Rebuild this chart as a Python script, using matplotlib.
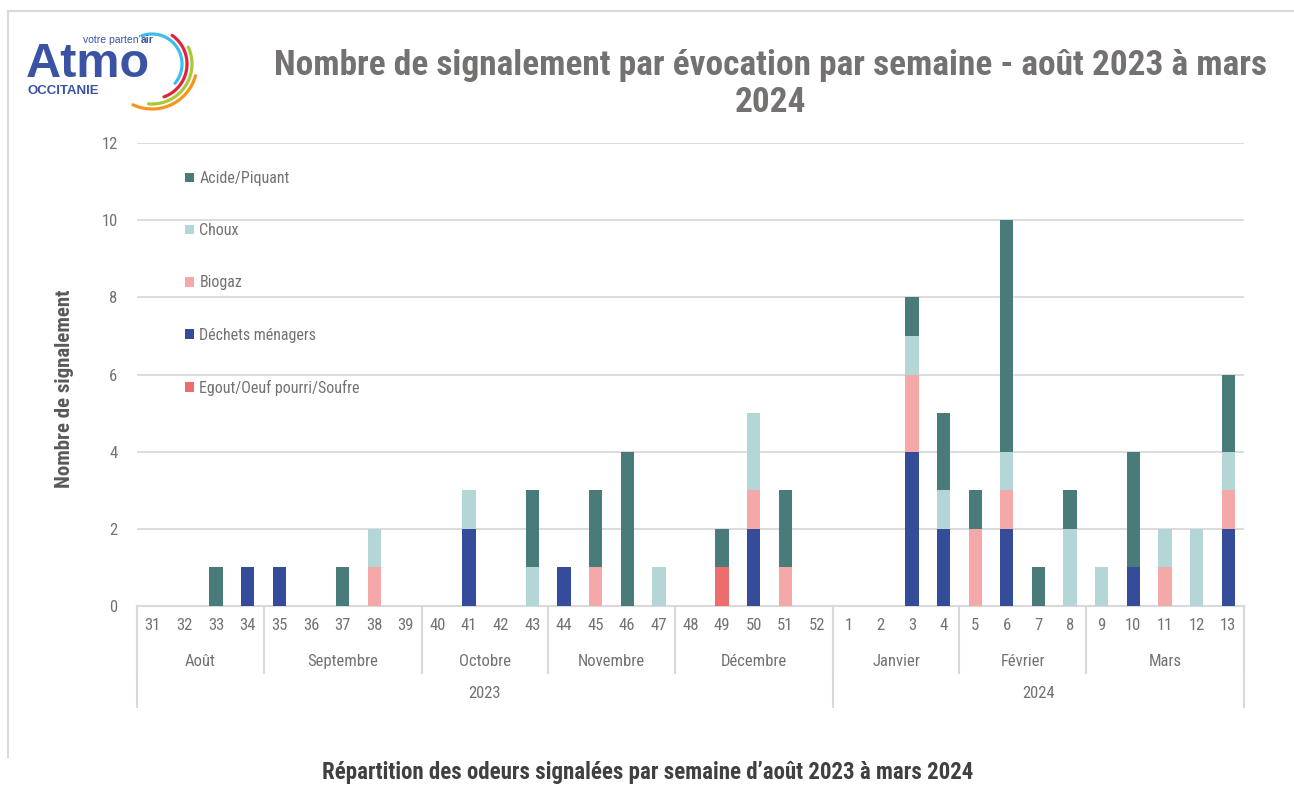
import numpy as np
import matplotlib
matplotlib.use("Agg")
import matplotlib.pyplot as plt
from matplotlib import font_manager as fm
from matplotlib.transforms import blended_transform_factory
from matplotlib.lines import Line2D

# ---------------- data ----------------
weeks = ['31', '32', '33', '34', '35', '36', '37', '38', '39', '40', '41', '42', '43',
         '44', '45', '46', '47', '48', '49', '50', '51', '52',
         '1', '2', '3', '4', '5', '6', '7', '8', '9', '10', '11', '12', '13']
months = ['Août', 'Septembre', 'Octobre', 'Novembre', 'Décembre', 'Janvier', 'Février', 'Mars']
month_counts = [4, 5, 4, 4, 5, 4, 4, 5]
years = ['2023', '2024']
year_counts = [22, 13]

egout   = [0,0,0,0,0,0,0,0,0,0,0,0,0,0,0,0,0,0,1,0,0,0, 0,0,0,0,0,0,0,0,0,0,0,0,0]
dechets = [0,0,0,1,1,0,0,0,0,0,2,0,0,1,0,0,0,0,0,2,0,0, 0,0,4,2,0,2,0,0,0,1,0,0,2]
biogaz  = [0,0,0,0,0,0,0,1,0,0,0,0,0,0,1,0,0,0,0,1,1,0, 0,0,2,0,2,1,0,0,0,0,1,0,1]
choux   = [0,0,0,0,0,0,0,1,0,0,1,0,1,0,0,0,1,0,0,2,0,0, 0,0,1,1,0,1,0,2,1,0,1,2,1]
acide   = [0,0,1,0,0,0,1,0,0,0,0,0,2,0,2,4,0,0,1,0,2,0, 0,0,1,2,1,6,1,1,0,3,0,0,2]

series_names = ['Egout/Oeuf pourri/Soufre', 'Déchets ménagers', 'Biogaz', 'Choux', 'Acide/Piquant']
series_vals = [egout, dechets, biogaz, choux, acide]
series_colors = ['#ED6D6C', '#354C9B', '#F4A8A7', '#B4D6D6', '#487B79']

title1 = "Nombre de signalement par évocation par semaine - août 2023 à mars"
title2 = "2024"
ylabel = "Nombre de signalement"
caption = "Répartition des odeurs signalées par semaine d’août 2023 à mars 2024"

# ---------------- fonts ----------------
names = {f.name for f in fm.fontManager.ttflist}
narrow = next((n for n in ['Liberation Sans Narrow', 'Roboto Condensed', 'DejaVu Sans Condensed',
                           'Liberation Sans'] if n in names), 'DejaVu Sans')
plt.rcParams['font.family'] = [narrow, 'DejaVu Sans']

W, H = 1294, 785
fig = plt.figure(figsize=(W / 100, H / 100), dpi=100)
fig.patch.set_facecolor('white')

L, R, T, B = 137, 1244, 143, 606
ax = fig.add_axes([L / W, 1 - B / H, (R - L) / W, (B - T) / H])

x = np.arange(len(weeks))
bottom = np.zeros(len(weeks))
handles = []
for name, vals, col in zip(series_names, series_vals, series_colors):
    v = np.array(vals, dtype=float)
    bc = ax.bar(x, v, 0.42, bottom=bottom, color=col, label=name, linewidth=0, zorder=3)
    handles.append(bc)
    bottom += v

ax.set_xlim(-0.5, len(weeks) - 0.5)
ax.set_ylim(0, 12)
ax.set_yticks(np.arange(0, 13, 2))
ax.yaxis.grid(True, color='#D9D9D9', linewidth=1.3)
ax.set_axisbelow(True)
for s in ['top', 'right', 'left']:
    ax.spines[s].set_visible(False)
ax.spines['bottom'].set_color('#D9D9D9')
ax.spines['bottom'].set_linewidth(1.5)
ax.tick_params(axis='y', length=0, pad=14, labelsize=12, labelcolor='#767171')
ax.set_xticks(x)
ax.set_xticklabels(weeks)
ax.tick_params(axis='x', length=0, pad=9, labelsize=12, labelcolor='#767171')

trans = blended_transform_factory(ax.transData, ax.transAxes)
grid_col = '#D9D9D9'
# month separators and labels
pos = 0
edges = [-0.5]
for m, c in zip(months, month_counts):
    ax.text(pos + (c - 1) / 2, -0.1188, m, transform=trans, ha='center', va='center',
            fontsize=12, color='#767171')
    pos += c
    edges.append(pos - 0.5)
for e in edges:
    ax.plot([e, e], [0, -0.1447], transform=trans, color=grid_col, lw=1.5, clip_on=False)
# year separators and labels
pos = 0
yedges = [-0.5]
for yname, c in zip(years, year_counts):
    ax.text(pos + (c - 1) / 2, -0.190, yname, transform=trans, ha='center', va='center',
            fontsize=12, color='#767171')
    pos += c
    yedges.append(pos - 0.5)
for e in yedges:
    ax.plot([e, e], [0, -0.218], transform=trans, color=grid_col, lw=1.5, clip_on=False)

# legend
leg = ax.legend(handles[::-1], series_names[::-1], loc='upper left',
                bbox_to_anchor=(185 / W, 1 - 171 / H), bbox_transform=fig.transFigure,
                frameon=False, fontsize=11.5, labelspacing=2.33, handlelength=0.55,
                handleheight=0.55, handletextpad=0.35, borderpad=0, borderaxespad=0)
for t in leg.get_texts():
    t.set_color('#767171')

# texts
fig.text(770 / W, 1 - 65 / H, title1, ha='center', va='center', fontsize=25.5,
         fontweight='bold', color='#767171')
fig.text(770 / W, 1 - 103 / H, title2, ha='center', va='center', fontsize=25.5,
         fontweight='bold', color='#767171')
fig.text(65 / W, 1 - 389 / H, ylabel, ha='center', va='center', rotation=90, fontsize=15,
         fontweight='bold', color='#595959')
fig.text(648 / W, 1 - 773 / H, caption, ha='center', va='center', fontsize=16.5,
         fontweight='bold', color='#404040')

# overlay for frame and logo (pixel coordinates)
ov = fig.add_axes([0, 0, 1, 1], zorder=-1)
ov.set_xlim(0, W)
ov.set_ylim(H, 0)
ov.axis('off')
ov.add_line(Line2D([8, W], [11, 11], color='#D9D9D9', lw=1.5))
ov.add_line(Line2D([8, 8], [11, 757], color='#D9D9D9', lw=1.5))

blue = '#3A53A4'
ov.text(26, 77, 'Atmo', fontsize=35, fontweight='bold', color=blue, ha='left', va='baseline',
        family=['Liberation Sans', 'DejaVu Sans'])
ov.text(141, 40, 'votre parten’', fontsize=7.5, color=blue, ha='right', va='center',
        family=['Liberation Sans', 'DejaVu Sans'])
ov.text(141, 40, 'air', fontsize=7.5, fontweight='bold', color=blue, ha='left', va='center',
        family=['Liberation Sans', 'DejaVu Sans'])
ov.text(27, 91, 'OCCITANIE', fontsize=9.5, fontweight='bold', color=blue, ha='left',
        va='center', family=['Liberation Sans', 'DejaVu Sans'])
cx, cy = 152, 64
for r, a0, a1, col in [(30, 110, -40, '#3DBDE8'), (35, 55, -70, '#E2233E'),
                       (40, 25, -95, '#A9C938'), (45, -15, -115, '#F7941D')]:
    th = np.radians(np.linspace(a0, a1, 60))
    ov.plot(cx + r * np.cos(th), cy - r * np.sin(th), color=col, lw=2.3,
            solid_capstyle='round')

fig.savefig('out.png', dpi=100, facecolor='white')
